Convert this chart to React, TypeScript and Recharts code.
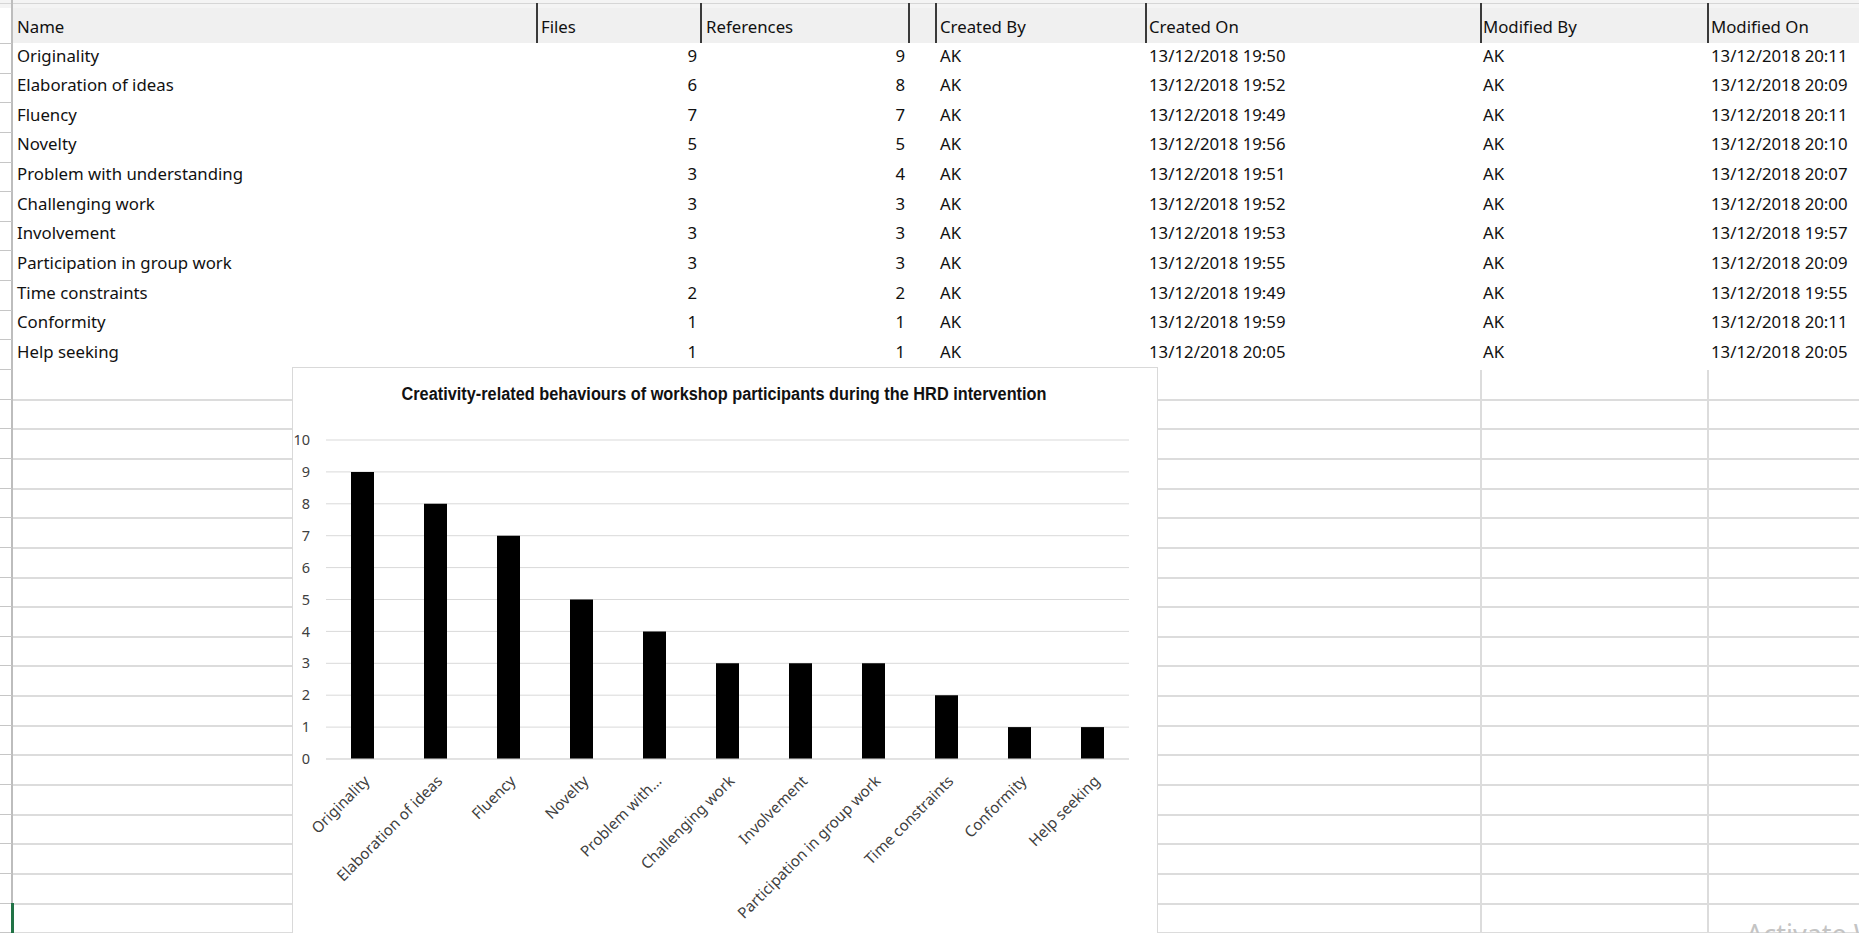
import React from 'react';
import { BarChart, Bar, XAxis, YAxis, CartesianGrid } from 'recharts';

// ---- data ----
const names = [
  'Originality', 'Elaboration of ideas', 'Fluency', 'Novelty', 'Problem with understanding',
  'Challenging work', 'Involvement', 'Participation in group work', 'Time constraints', 'Conformity', 'Help seeking',
];
const files = [9, 6, 7, 5, 3, 3, 3, 3, 2, 1, 1];
const references = [9, 8, 7, 5, 4, 3, 3, 3, 2, 1, 1];
const createdBy = ['AK', 'AK', 'AK', 'AK', 'AK', 'AK', 'AK', 'AK', 'AK', 'AK', 'AK'];
const createdOn = [
  '13/12/2018 19:50', '13/12/2018 19:52', '13/12/2018 19:49', '13/12/2018 19:56', '13/12/2018 19:51',
  '13/12/2018 19:52', '13/12/2018 19:53', '13/12/2018 19:55', '13/12/2018 19:49', '13/12/2018 19:59', '13/12/2018 20:05',
];
const modifiedBy = ['AK', 'AK', 'AK', 'AK', 'AK', 'AK', 'AK', 'AK', 'AK', 'AK', 'AK'];
const modifiedOn = [
  '13/12/2018 20:11', '13/12/2018 20:09', '13/12/2018 20:11', '13/12/2018 20:10', '13/12/2018 20:07',
  '13/12/2018 20:00', '13/12/2018 19:57', '13/12/2018 20:09', '13/12/2018 19:55', '13/12/2018 20:11', '13/12/2018 20:05',
];
const headers = ['Name', 'Files', 'References', '', 'Created By', 'Created On', 'Modified By', 'Modified On'];
const chartLabels = [
  'Originality', 'Elaboration of ideas', 'Fluency', 'Novelty', 'Problem with…', 'Challenging work',
  'Involvement', 'Participation in group work', 'Time constraints', 'Conformity', 'Help seeking',
];
const yTicks = [0, 1, 2, 3, 4, 5, 6, 7, 8, 9, 10];
const chartTitle = 'Creativity-related behaviours of workshop participants during the HRD intervention';

const chartData = chartLabels.map((label, i) => ({ label, value: references[i] }));

// ---- layout ----
const ROW_H = 29.64;
const FIRST_ROW_CENTER = 55.5;
const HEADER_CENTER = 27;
const dividers = [536, 700, 908, 935, 1145, 1480, 1707];
const colLeft = [17, 541, 706, 912, 940, 1149, 1483, 1711];
const FONT = '"Noto Sans", sans-serif';
const TEXT = '#111';

const CHART_X = 292;
const CHART_Y = 367;
const CHART_W = 866;
const CHART_H = 580;

const XTick = (props: any) => {
  const { x, y, payload } = props;
  const ax = x + 8;
  const ay = y + 15;
  return (
    <text x={ax} y={ay} textAnchor="end" transform={`rotate(-45 ${ax} ${ay})`}
      fill="#404040" fontSize={15.2} fontFamily={FONT}>{payload.value}</text>
  );
};

function Cell({ left, center, text, right }: { left?: number; center: number; text: string; right?: number }) {
  const style: React.CSSProperties = {
    position: 'absolute', top: center - 12, height: 24, lineHeight: '24px', fontSize: 16.8,
    fontFamily: FONT, color: TEXT, whiteSpace: 'nowrap',
  };
  if (right !== undefined) { style.left = right - 200; style.width = 200; style.textAlign = 'right'; }
  else style.left = left;
  return <div style={style}>{text}</div>;
}

export default function App() {
  const lineYs: number[] = [];
  for (let n = 0; n <= 30; n++) lineYs.push(43 + ROW_H * n);
  const belowLines = lineYs.filter((y) => y > 380 && y < 933);

  return (
    <div style={{ position: 'fixed', left: 0, top: 0, width: 1859, height: 933, overflow: 'hidden', background: '#fff' }}>
      {/* header band */}
      <div style={{ position: 'absolute', left: 0, top: 0, width: 1859, height: 8, background: '#f4f4f4' }} />
      <div style={{ position: 'absolute', left: 0, top: 3, width: 1859, height: 1, background: '#d6d6d6' }} />
      <div style={{ position: 'absolute', left: 12, top: 8, width: 1847, height: 35, background: '#f0f0f0' }} />
      {dividers.map((x, i) => (
        <div key={'d' + i} style={{ position: 'absolute', left: x, top: 3, width: 2, height: 40, background: '#3a3a3a' }} />
      ))}
      {/* left border and row ticks */}
      <div style={{ position: 'absolute', left: 11, top: 0, width: 2, height: 933, background: '#bdbdbd' }} />
      {lineYs.map((y, i) => (
        <div key={'t' + i} style={{ position: 'absolute', left: 0, top: y, width: 12, height: 1, background: '#c6c6c6' }} />
      ))}
      {/* header text */}
      {headers.map((h, i) => <Cell key={'h' + i} left={colLeft[i]} center={HEADER_CENTER} text={h} />)}
      {/* rows */}
      {names.map((n, i) => {
        const c = FIRST_ROW_CENTER + ROW_H * i;
        return (
          <React.Fragment key={'r' + i}>
            <Cell left={colLeft[0]} center={c} text={n} />
            <Cell right={697} center={c} text={String(files[i])} />
            <Cell right={905} center={c} text={String(references[i])} />
            <Cell left={colLeft[4]} center={c} text={createdBy[i]} />
            <Cell left={colLeft[5]} center={c} text={createdOn[i]} />
            <Cell left={colLeft[6]} center={c} text={modifiedBy[i]} />
            <Cell left={colLeft[7]} center={c} text={modifiedOn[i]} />
          </React.Fragment>
        );
      })}
      {/* empty grid below table */}
      {belowLines.map((y, i) => (
        <React.Fragment key={'g' + i}>
          <div style={{ position: 'absolute', left: 13, top: y, width: CHART_X - 13, height: 2, background: '#dcdcdc' }} />
          <div style={{ position: 'absolute', left: CHART_X + CHART_W, top: y, width: 1859 - CHART_X - CHART_W, height: 2, background: '#dcdcdc' }} />
        </React.Fragment>
      ))}
      {[1480, 1707].map((x) => (
        <div key={'v' + x} style={{ position: 'absolute', left: x, top: 370, width: 2, height: 563, background: '#dcdcdc' }} />
      ))}
      <div style={{ position: 'absolute', left: 11, top: 903, width: 3, height: 30, background: '#217346' }} />

      {/* chart */}
      <div style={{ position: 'absolute', left: CHART_X, top: CHART_Y, width: CHART_W, height: CHART_H, background: '#fff', border: '1px solid #d9d9d9', boxSizing: 'border-box' }}>
        <div style={{ position: 'absolute', left: -1, top: -1 }}>
          <BarChart width={CHART_W} height={CHART_H} data={chartData} margin={{ top: 73, right: 29, left: 0, bottom: 0 }}>
            <CartesianGrid vertical={false} stroke="#d9d9d9" />
            <XAxis dataKey="label" interval={0} height={CHART_H - 392} axisLine={{ stroke: '#d9d9d9' }} tickLine={false} tick={<XTick />} />
            <YAxis width={34} domain={[0, 10]} ticks={yTicks} interval={0} axisLine={false} tickLine={false} tickMargin={10}
              tick={{ fill: '#404040', fontSize: 14.5, fontFamily: FONT }} />
            <Bar dataKey="value" fill="#000" barSize={23} isAnimationActive={false} />
          </BarChart>
        </div>
        <svg width={CHART_W} height={60} style={{ position: 'absolute', left: -1, top: -1 }}>
          <text x={432} y={33} textAnchor="middle" fontWeight="bold" fontSize={18} fontFamily='"Liberation Sans", sans-serif'
            fill="#111" textLength={645} lengthAdjust="spacingAndGlyphs">{chartTitle}</text>
        </svg>
      </div>

      {/* watermark */}
      <svg width={200} height={30} style={{ position: 'absolute', left: 1740, top: 905 }}>
        <text x={6} y={39} fontSize={27} fontFamily={FONT} fill="#c4c4c4">Activate Windows</text>
      </svg>
    </div>
  );
}
